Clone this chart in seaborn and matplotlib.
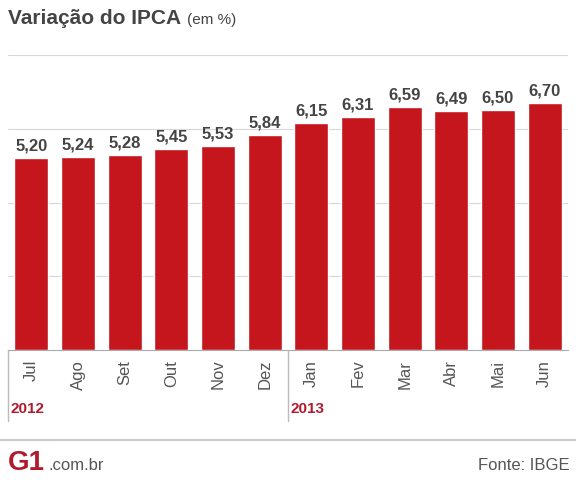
import matplotlib
matplotlib.use("Agg")
import matplotlib.pyplot as plt
import seaborn as sns
import pandas as pd

months = ['Jul', 'Ago', 'Set', 'Out', 'Nov', 'Dez', 'Jan', 'Fev', 'Mar', 'Abr', 'Mai', 'Jun']
values = [5.20, 5.24, 5.28, 5.45, 5.53, 5.84, 6.15, 6.31, 6.59, 6.49, 6.50, 6.70]
years = ['2012', '2013']

red = '#c4161c'
df = pd.DataFrame({'mes': months, 'valor': values})

sns.set_style('white')
plt.rcParams['font.family'] = ['Liberation Sans', 'DejaVu Sans']
fig = plt.figure(figsize=(5.76, 4.8), dpi=100)
ax = fig.add_axes([8 / 576, 1 - 350 / 480, 560 / 576, 295 / 480])

sns.barplot(data=df, x='mes', y='valor', color=red, width=0.73, saturation=1, ax=ax)
ax.set_ylim(0, 8)
ax.set_xlim(-0.5, len(months) - 0.5)
ax.set_yticks([2, 4, 6, 8])
ax.yaxis.grid(True, color='#d8d8d8', lw=0.8)
ax.set_axisbelow(True)
ax.set_yticklabels([])
ax.tick_params(left=False, bottom=False)
for s in ['top', 'right', 'left']:
    ax.spines[s].set_visible(False)
ax.spines['bottom'].set_color('#aaaaaa')
ax.set_xlabel('')
ax.set_ylabel('')
ax.set_xticklabels(months, rotation=90, fontsize=12, color='#555555')

for i, v in enumerate(values):
    ax.text(i, v + 0.12, f'{v:.2f}'.replace('.', ','), ha='center', va='bottom',
            fontsize=12, fontweight='bold', color='#444444')

# year separators and labels
for i, yr in zip([0, 6], years):
    x = i / len(months)
    ax.plot([x, x], [0, -0.24], transform=ax.transAxes, color='#bbbbbb', lw=1, clip_on=False)
    ax.text(x + 0.005, -0.2, yr, transform=ax.transAxes, fontsize=11, fontweight='bold',
            color='#b01c2e', va='center')

title = fig.text(8 / 576, 1 - 18 / 480, 'Variação do IPCA', fontsize=15, fontweight='bold',
                 color='#444444', va='center')
fig.canvas.draw()
bb = title.get_window_extent()
fig.text((bb.x1 + 6) / 576, 1 - 20 / 480, '(em %)', fontsize=11, color='#444444', va='center')

fig.add_artist(plt.Line2D([0, 1], [1 - 440 / 480] * 2, color='#cccccc', lw=1.5))
fig.text(8 / 576, 1 - 463 / 480, 'G1', fontsize=20, fontweight='bold', color='#b01c2e', va='center')
fig.text(48 / 576, 1 - 466 / 480, '.com.br', fontsize=12, color='#555555', va='center')
fig.text(570 / 576, 1 - 466 / 480, 'Fonte: IBGE', fontsize=12, color='#555555', va='center', ha='right')

fig.savefig('out.png', dpi=100)
